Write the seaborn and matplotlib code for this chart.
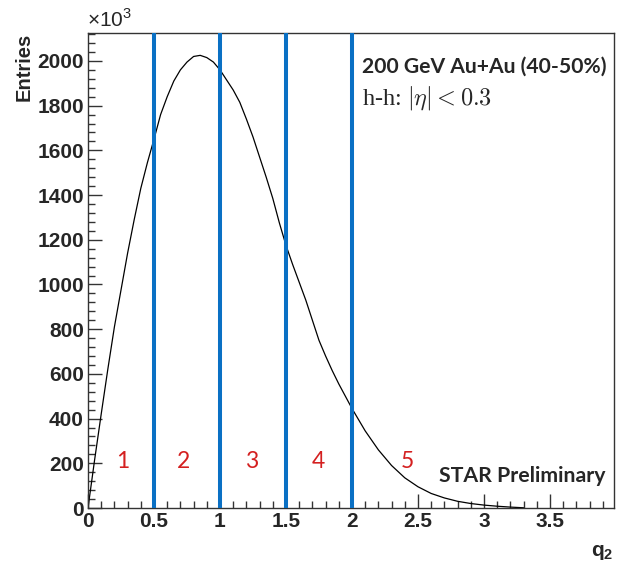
import matplotlib
matplotlib.use("Agg")
import matplotlib.pyplot as plt
from matplotlib.ticker import MultipleLocator, FuncFormatter
import seaborn as sns
import pandas as pd

# q2 distribution (Entries in units of 10^3)
q2 = [0.0, 0.05, 0.1, 0.15, 0.2, 0.25, 0.3, 0.35, 0.4, 0.45,
      0.5, 0.55, 0.6, 0.65, 0.7, 0.75, 0.8, 0.85, 0.9, 0.95,
      1.0, 1.05, 1.1, 1.15, 1.2, 1.25, 1.3, 1.35, 1.4, 1.45,
      1.5, 1.55, 1.6, 1.65, 1.7, 1.75, 1.8, 1.85, 1.9, 1.95,
      2.0, 2.1, 2.2, 2.3, 2.4, 2.5, 2.6, 2.7, 2.8, 2.9,
      3.0, 3.1, 3.2, 3.3]
entries = [0, 215, 420, 620, 810, 975, 1140, 1290, 1430, 1545,
           1650, 1760, 1840, 1910, 1960, 1995, 2020, 2025, 2015, 1995,
           1960, 1915, 1870, 1815, 1740, 1660, 1570, 1480, 1385, 1275,
           1175, 1090, 1010, 930, 840, 750, 680, 615, 555, 500,
           445, 345, 260, 190, 135, 95, 65, 45, 30, 20,
           13, 8, 4, 1]

# q2 class boundaries and class labels
cuts = [0.5, 1.0, 1.5, 2.0]
class_labels = ["1", "2", "3", "4", "5"]

df = pd.DataFrame({"q2": q2, "entries": entries})

sns.set_theme(style="ticks")
plt.rcParams["font.family"] = ["Liberation Sans", "DejaVu Sans"]
plt.rcParams["mathtext.fontset"] = "custom"
plt.rcParams["mathtext.rm"] = "Liberation Sans"
plt.rcParams["mathtext.bf"] = "Liberation Sans:bold"

W, H = 618, 564
fig = plt.figure(figsize=(W / 100, H / 100), dpi=100)
ax = fig.add_axes([88 / W, 1 - 508 / H, (614 - 88) / W, (508 - 33) / H])

sns.lineplot(data=df, x="q2", y="entries", ax=ax, color="black", linewidth=0.9)

blue = "#0a70c4"
for c in cuts:
    ax.axvline(c, color=blue, linewidth=2.9, zorder=3)

ax.set_xlim(0, 3.985)
ax.set_ylim(0, 2125)
ax.set_xlabel("")
ax.set_ylabel("")

ax.xaxis.set_major_locator(MultipleLocator(0.5))
ax.xaxis.set_minor_locator(MultipleLocator(0.1))
ax.yaxis.set_major_locator(MultipleLocator(200))
ax.yaxis.set_minor_locator(MultipleLocator(40))
ax.xaxis.set_major_formatter(FuncFormatter(lambda v, p: "%g" % v))
ax.yaxis.set_major_formatter(FuncFormatter(lambda v, p: "%d" % v))
ax.tick_params(which="major", direction="in", length=10, width=1, color="#333333",
               labelsize=15, pad=3)
ax.tick_params(which="minor", direction="in", length=5, width=1, color="#333333")
for lab in ax.get_xticklabels() + ax.get_yticklabels():
    lab.set_fontweight("bold")
for s in ax.spines.values():
    s.set_linewidth(1)
    s.set_color("#333333")

# axis titles, ROOT style
fig.text(24 / W, 1 - 33 / H, "Entries", rotation=90, ha="center", va="top",
         fontsize=14.5, fontweight="bold")
fig.text(87 / W, 1 - 31 / H, "\u00d710$^{3}$", ha="left", va="bottom", fontsize=15,
         math_fontfamily="custom")
fig.text(613 / W, 1 - 562 / H, r"q$_{\mathbf{2}}$", ha="right", va="bottom",
         fontsize=15, fontweight="bold", math_fontfamily="custom")

# annotations
fig.text(362 / W, 1 - 67 / H, "200 GeV Au+Au (40-50%)", ha="left", va="center",
         fontsize=15.2, fontweight="bold", family=["Lato", "DejaVu Sans"])
fig.text(362 / W, 1 - 98 / H, r"h-h: $|\eta| < 0.3$", ha="left", va="center",
         fontsize=17.5, family=["Liberation Serif", "DejaVu Serif"], math_fontfamily="cm")
fig.text(439 / W, 1 - 476 / H, "STAR Preliminary", ha="left", va="center",
         fontsize=15.3, fontweight="bold", family=["Lato", "DejaVu Sans"])

label_px = [123, 184, 252, 318, 407]
for lab, px in zip(class_labels, label_px):
    fig.text(px / W, 1 - 462 / H, lab, ha="center", va="center", fontsize=16.5,
             color="#d42020", family=["Lato", "DejaVu Sans"])

fig.savefig("out.png", dpi=100)
